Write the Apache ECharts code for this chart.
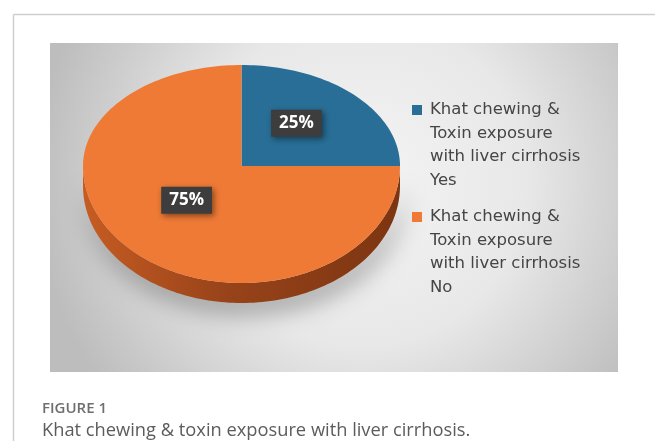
<!DOCTYPE html>
<html><head><meta charset="utf-8">
<script src="https://cdn.jsdelivr.net/npm/echarts@6/dist/echarts.min.js"></script>
<style>html,body{margin:0;padding:0;background:#fff}#c{width:655px;height:441px}</style>
</head><body><div id="c"></div>
<script>
const categories = [
  'Khat chewing &\nToxin exposure\nwith liver cirrhosis\nYes',
  'Khat chewing &\nToxin exposure\nwith liver cirrhosis\nNo'
];
const values = [25, 75];
const captionLabel = 'FIGURE 1';
const captionText = 'Khat chewing & toxin exposure with liver cirrhosis.';

const colors = ['#286e96', '#ef7a35'];
const wallColors = [['#2a6f96', '#1d5272', '#163f58'], ['#c65c22', '#98431a', '#7c3511']];
const PIE = {cx: 241.5, cy: 166, rx: 158.5, ryTop: 101, ryBot: 117, depth: 20};
const LEG = {left: 412, lineH: 23.5, firstLine: [110, 217]};
const total = values.reduce((a, b) => a + b, 0);

function pt(phiDeg, dy) {
  const p = phiDeg * Math.PI / 180;
  const c = Math.cos(p);
  const ry = c > 0 ? PIE.ryTop : PIE.ryBot;
  return [PIE.cx + PIE.rx * Math.sin(p), PIE.cy - ry * c + (dy || 0)];
}
function arc(a, b, dy) {
  const pts = [];
  const n = Math.max(2, Math.ceil(Math.abs(b - a) / 1.5));
  for (let i = 0; i <= n; i++) pts.push(pt(a + (b - a) * i / n, dy));
  return pts;
}

function renderSlice(params, api) {
  const i = params.seriesIndex;
  const v = api.value(0);
  let start = 0;
  for (let k = 0; k < i; k++) start += values[k];
  const a1 = start / total * 360, a2 = (start + v) / total * 360;
  const children = [];
  const w1 = Math.max(a1, 90), w2 = Math.min(a2, 270);
  if (w2 > w1) {
    const top = arc(w1, w2, 0), bot = arc(w2, w1, PIE.depth);
    const wc = wallColors[i];
    children.push({
      type: 'polygon', z2: 0,
      shape: {points: top.concat(bot)},
      style: {
        fill: new echarts.graphic.LinearGradient(1, 0, 0, 0, [
          {offset: 0, color: wc[2]}, {offset: 0.55, color: wc[1]}, {offset: 1, color: wc[0]}
        ]),
        shadowBlur: 24, shadowOffsetY: 10, shadowOffsetX: 4, shadowColor: 'rgba(0,0,0,0.35)'
      }
    });
  }
  children.push({
    type: 'polygon', z2: 10,
    shape: {points: [[PIE.cx, PIE.cy]].concat(arc(a1, a2, 0))},
    style: {fill: colors[i]}
  });
  const mid = (a1 + a2) / 2;
  const p = mid * Math.PI / 180;
  const c = Math.cos(p);
  const ry = c > 0 ? PIE.ryTop : PIE.ryBot;
  const lx = PIE.cx + 0.49 * PIE.rx * Math.sin(p);
  const ly = PIE.cy - 0.5 * ry * c - 7;
  children.push({
    type: 'text', z2: 20, x: lx, y: ly,
    style: {
      text: Math.round(v / total * 100) + '%',
      align: 'center', verticalAlign: 'middle',
      fill: '#ffffff', font: 'bold 17px "Open Sans", sans-serif',
      backgroundColor: '#3d3d3d', padding: [6, 8, 4, 8],
      shadowBlur: 6, shadowColor: 'rgba(0,0,0,0.45)', shadowOffsetX: 2, shadowOffsetY: 2
    }
  });
  return {type: 'group', children};
}

// legend icon: a 10px square aligned with the first text line of a 4-line block
const blockH = LEG.lineH * 4;
const sqTop = LEG.lineH / 2 - 5;
const legendIcon = 'path://M0,0h0.01v0.01h-0.01zM0,' + sqTop + 'h10v10h-10zM0,' + (blockH - 0.01) + 'h0.01v0.01h-0.01z';

const chart = echarts.init(document.getElementById('c'), null, {renderer: 'canvas'});
chart.setOption({
  animation: false,
  graphic: [
    {type: 'line', z: 0, shape: {x1: 13.5, y1: 14.5, x2: 655, y2: 14.5}, style: {stroke: '#cfcfcf', lineWidth: 1.5}},
    {type: 'line', z: 0, shape: {x1: 13.5, y1: 14.5, x2: 13.5, y2: 441}, style: {stroke: '#cfcfcf', lineWidth: 1.5}},
    {type: 'rect', z: 0, shape: {x: 50, y: 43, width: 568, height: 329},
      style: {fill: new echarts.graphic.RadialGradient(0.55, 0.42, 1.0, [
        {offset: 0, color: '#f4f4f4'}, {offset: 0.5, color: '#e8e8e8'}, {offset: 1, color: '#bdbdbd'}
      ])}},
    {type: 'text', z: 0, x: 42, y: 409, style: {text: captionLabel, font: '600 15px "Open Sans", sans-serif', fill: '#6e6e6e', verticalAlign: 'middle'}},
    {type: 'text', z: 0, x: 42, y: 431, style: {text: captionText, font: '18.3px "Open Sans", sans-serif', fill: '#5c5c5c', verticalAlign: 'middle'}}
  ],
  legend: categories.map((name, i) => ({
    data: [name], orient: 'vertical', left: LEG.left, top: LEG.firstLine[i] - LEG.lineH / 2, padding: 0,
    icon: legendIcon, itemWidth: 10, itemHeight: blockH, selectedMode: false, symbolKeepAspect: true,
    textStyle: {fontFamily: 'DejaVu Sans', fontSize: 16.5, lineHeight: LEG.lineH, color: '#454545', padding: [0, 0, 0, 3]}
  })),
  series: categories.map((name, i) => ({
    type: 'custom', name: name, coordinateSystem: 'none',
    itemStyle: {color: colors[i]},
    data: [[values[i]]],
    renderItem: renderSlice
  }))
});
</script></body></html>
